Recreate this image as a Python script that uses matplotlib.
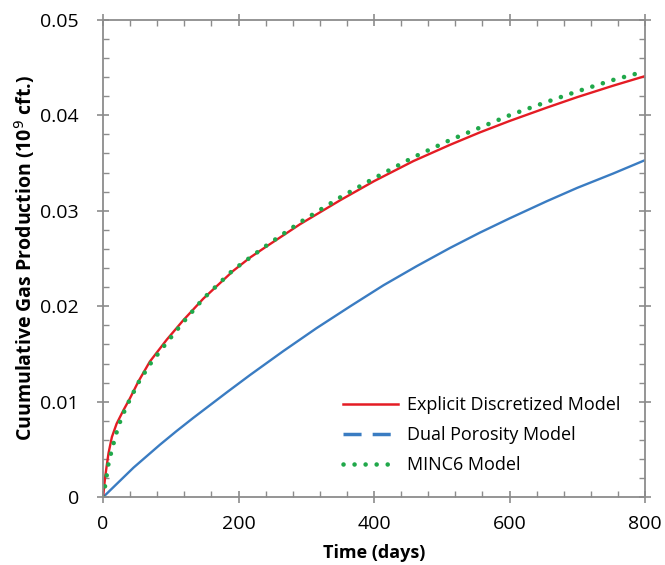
import matplotlib
matplotlib.use('Agg')
import matplotlib.pyplot as plt
from matplotlib.lines import Line2D
from matplotlib.ticker import MultipleLocator

# values
exp_days = [0, 3, 8, 13, 20, 30, 40, 52, 69, 94, 118, 148, 192, 217, 242, 291,
            350, 400, 458, 512, 556, 600, 655, 700, 753, 800]
explicit = [0, 0.0021, 0.0046, 0.0063, 0.0077, 0.0091, 0.0104, 0.0121, 0.0142, 0.0165,
            0.0185, 0.0208, 0.0237, 0.0251, 0.0263, 0.0286, 0.0311, 0.0331, 0.0352,
            0.0369, 0.0382, 0.0394, 0.0408, 0.0419, 0.0431, 0.0441]
minc_days = [0, 3, 8, 13, 20, 26, 32, 40, 53, 69, 94, 118, 148, 192, 242, 291,
             350, 400, 458, 512, 556, 600, 655, 700, 753, 800]
minc6 = [0, 0.0012, 0.0035, 0.0050, 0.0068, 0.0081, 0.0091, 0.0103, 0.0121, 0.0139,
         0.0162, 0.0183, 0.0208, 0.0238, 0.0264, 0.0288, 0.0314, 0.0334, 0.0356,
         0.0374, 0.0387, 0.0400, 0.0414, 0.0425, 0.0437, 0.0446]
dual_days = [0, 45, 84, 108, 133, 183, 217, 266, 315, 365, 414, 463, 512, 556, 600,
             655, 700, 753, 800]
dual = [0, 0.0031, 0.0055, 0.0069, 0.0083, 0.0110, 0.0128, 0.0153, 0.0177, 0.0200,
        0.0222, 0.0242, 0.0261, 0.0277, 0.0292, 0.0310, 0.0324, 0.0339, 0.0353]

y_ticks = [0, 0.01, 0.02, 0.03, 0.04, 0.05]
y_tick_labels = ['0', '0.01', '0.02', '0.03', '0.04', '0.05']
labels = ['Explicit Discretized Model', 'Dual Porosity Model', 'MINC6 Model']

plt.rcParams['font.family'] = ['Open Sans', 'DejaVu Sans']

fig = plt.figure(figsize=(6.65, 5.65), dpi=100)
ax = fig.add_axes([0.155, 0.12, 0.815, 0.845])

red = '#e41c24'
blue = '#3a7cc2'
green = '#20a84a'
dots = (0, (0.01, 2.4))

ax.plot(dual_days, dual, color=blue, lw=1.7)
ax.plot(exp_days, explicit, color=red, lw=1.7)
ax.plot(minc_days, minc6, color=green, lw=3.3, linestyle=dots, dash_capstyle='round')

ax.set_xlim(0, 800)
ax.set_ylim(0, 0.05)
ax.xaxis.set_major_locator(MultipleLocator(200))
ax.xaxis.set_minor_locator(MultipleLocator(40))
ax.yaxis.set_minor_locator(MultipleLocator(0.002))
ax.set_yticks(y_ticks)
ax.set_yticklabels(y_tick_labels)

for s in ax.spines.values():
    s.set_color('#8c8c8c')
    s.set_linewidth(1.3)
ax.tick_params(which='major', direction='inout', length=9, width=1.2, color='#8c8c8c',
               top=True, right=True, labelsize=14)
ax.tick_params(axis='y', which='major', pad=13)
ax.tick_params(axis='x', which='major', pad=8)
ax.tick_params(which='minor', direction='in', length=4, width=1.0, color='#8c8c8c',
               top=True, right=True)

ax.set_xlabel('Time (days)', fontsize=13, fontweight='bold', labelpad=8)
ax.set_ylabel('Cuumulative Gas Production (10$^9$ cft.)', fontsize=14,
              fontweight='bold', labelpad=2)

handles = [
    Line2D([], [], color=red, lw=1.8),
    Line2D([], [], color=blue, lw=2.5, linestyle=(0, (5.2, 3.2))),
    Line2D([], [], color=green, lw=3.3, linestyle=dots, dash_capstyle='round'),
]
ax.legend(handles, labels, loc='upper left', bbox_to_anchor=(0.443, 0.212),
          borderaxespad=0, borderpad=0, frameon=False, fontsize=13,
          handlelength=3.05, handletextpad=0.5, labelspacing=0.67)

fig.savefig('out.png', dpi=100)
